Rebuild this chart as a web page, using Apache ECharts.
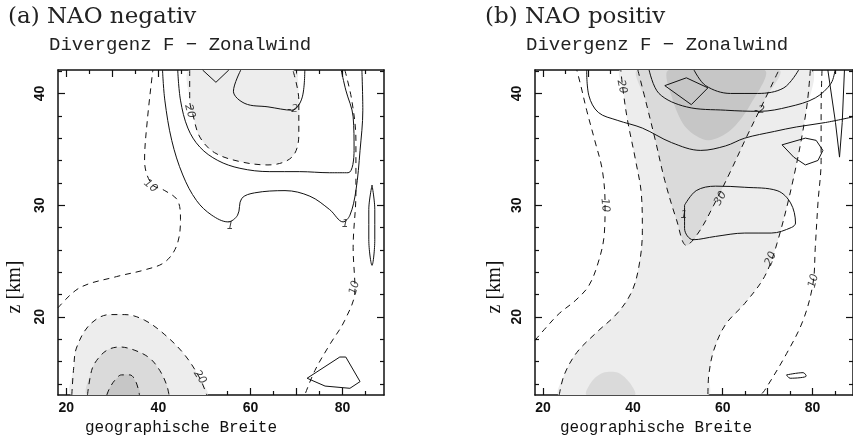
<!DOCTYPE html>
<html lang="de">
<head>
    <meta charset="UTF-8">
    <title>Divergenz F - Zonalwind</title>
    <script type="text/javascript" src="https://cdn.jsdelivr.net/npm/echarts@6/dist/echarts.min.js"></script>
</head>
<body style="margin:0">
<div id="main" style="width:853px;height:442px;"></div>
<script type="text/javascript">
    // achsen
    var latRange = [18.2, 89];
    var zRange = [13.0, 42.1];
    var latMajor = [20, 30, 40, 50, 60, 70, 80];
    var latMinor = [25, 35, 45, 55, 65, 75, 85];
    var latLabels = [20, 40, 60, 80];
    var zMajor = [20, 30, 40];
    var zMinor = [14, 16, 18, 22, 24, 26, 28, 32, 34, 36, 38, 42];
    var zLabels = [20, 30, 40];

    // ---- (a) NAO negativ ----
    // schattierung [breite, km]
    var aShadeTop = [[46.8, 42.1], [46.8, 39.4], [47.5, 38.1], [49, 36.1], [52.2, 34.7], [57.7, 33.9], [63.8, 33.6], [69, 34.3], [70.5, 36.3], [70.5, 39.4], [69.2, 42.1]];
    var aShadeLow1 = [[21.2, 13], [21.6, 15.4], [22.2, 17.2], [25.1, 19.3], [29.4, 20.2], [32.7, 20.2], [37, 19.7], [41.4, 18.4], [45.7, 16.6], [49, 14.5], [50.5, 13]];
    var aShadeLow2 = [[24.6, 13], [25.5, 15.2], [26.6, 16.1], [28.8, 17], [31.6, 17.3], [34.9, 17], [38.1, 16.3], [40.3, 15.2], [41.8, 13.9], [42.3, 13]];
    var aShadeLow3 = [[28.8, 13], [29.4, 13.6], [30.5, 14.3], [32, 14.8], [33.8, 14.8], [35.1, 14.2], [35.9, 13]];
    // divergenz F (durchgezogen)
    var aF1 = [[40.9, 42.1], [41.4, 39.4], [42.9, 35.8], [45.3, 32.7], [48.3, 30.4], [51.6, 29.1], [55.1, 28.5], [57.2, 29.1], [58.1, 30.6], [60.9, 31.1], [67.5, 31.3], [72.9, 30.8], [77.2, 29.6], [80.1, 28.5], [81.6, 29.1], [82.9, 31.3], [83.8, 34.9], [84.4, 38.5], [84.2, 42.1]];
    var aF0 = [[44.2, 42.1], [44.8, 39.4], [46.4, 36.9], [49, 35.2], [52.9, 34], [57.7, 33.3], [64.2, 33], [70.7, 33], [77.2, 32.9], [81.2, 32.9], [82.5, 34.9], [82.3, 37.9], [80.7, 40.3], [79.7, 42.1]];
    var aFm2 = [[57.9, 42.1], [56.3, 40.2], [58.8, 39.1], [63.8, 38.8], [69, 38.5], [71.2, 39.6], [71.8, 42.1]];
    var aFtop = [[49.6, 42.1], [52.5, 41.0], [55.3, 42.1]];
    var aFcell1 = [[86.4, 31.8], [87, 29.6], [87, 26.9], [86.4, 24.6], [85.7, 26.9], [85.7, 29.6], [86.4, 31.8]];
    var aFcell2 = [[72.3, 14.5], [79.4, 16.4], [80.7, 16.4], [83.8, 14.2], [81.6, 13.6], [76.2, 13.8], [72.3, 14.5]];
    // zonalwind (gestrichelt)
    var aU20top = [[46.8, 42.1], [46.8, 39.4], [47.5, 38.1], [49, 36.1], [52.2, 34.7], [57.7, 33.9], [63.8, 33.6], [69, 34.3], [70.5, 36.3], [70.5, 39.4], [69.2, 42.1]];
    var aU10left = [[18.2, 20.8], [22.9, 22.6], [30.9, 23.6], [37, 24.2], [41.4, 24.9], [44, 26.4], [44.8, 28.7], [44.2, 30.4], [41.4, 31.3], [38.5, 31.9], [37, 34], [37.6, 37.6], [38.8, 42.1]];
    var aU10right = [[80.5, 42.1], [82, 39.4], [82.9, 35.8], [82.9, 31.1], [82.3, 26.2], [82.7, 22.4], [80.5, 19.7], [77.2, 17.5], [74, 15.2], [71.8, 13]];
    var aU20low = [[21.2, 13], [21.6, 15.4], [22.2, 17.2], [25.1, 19.3], [29.4, 20.2], [32.7, 20.2], [37, 19.7], [41.4, 18.4], [45.7, 16.6], [49, 14.5], [50.5, 13]];
    var aU30low = [[24.6, 13], [25.5, 15.2], [26.6, 16.1], [28.8, 17], [31.6, 17.3], [34.9, 17], [38.1, 16.3], [40.3, 15.2], [41.8, 13.9], [42.3, 13]];
    var aU40low = [[28.8, 13], [29.4, 13.6], [30.5, 14.3], [32, 14.8], [33.8, 14.8], [35.1, 14.2], [35.9, 13]];

    // ---- (b) NAO positiv ----
    var bShade1 = [[23.6, 13], [24.7, 14.8], [27.5, 16.8], [31.9, 18.6], [36.7, 20.4], [39.9, 22.4], [41.5, 24.9], [42.1, 27.7], [41.9, 30.9], [40.6, 34], [38.8, 37.6], [37.8, 40.3], [37.3, 42.1], [79.5, 42.1], [78.6, 38.5], [75.8, 32.5], [72.1, 26.6], [69.3, 23.6], [64.9, 21.2], [60.6, 19.3], [58, 17], [56.9, 14.8], [56.7, 13]];
    var bShade2 = [[41.1, 42.1], [42.8, 39.4], [45, 35.8], [47.1, 32.2], [49.7, 28.7], [51.9, 26.4], [54.7, 27.6], [58, 30], [61.7, 33], [65.3, 36.1], [69.3, 39.4], [72.5, 42.1]];
    var bShade3 = [[48, 42.1], [48.9, 39.4], [51.9, 36.9], [56.7, 35.8], [61.7, 36.7], [66, 38.9], [69.3, 42.1]];
    var bShadeLow = [[29.7, 13], [31, 14.3], [33.4, 15], [36.7, 15], [39.3, 14.1], [40.4, 13]];
    var bF1 = [[29.7, 42.1], [30.2, 39.8], [32.3, 38.3], [36.5, 37.6], [42.1, 36.9], [48.6, 35.6], [55.1, 34.9], [60.6, 35.3], [64.9, 36], [71.5, 36.6], [76.4, 37], [82.9, 37.4], [89, 37.9]];
    var bFm2 = [[43.6, 42.1], [45.8, 40], [51.9, 38.8], [60.6, 38.5], [68.2, 38.4], [74.7, 38.8], [80.6, 39.6], [84.1, 40.9], [85, 42.1]];
    var bFm3 = [[53.6, 42.1], [56.2, 40.7], [61.7, 40], [67.8, 40], [73.6, 40.5], [76.9, 42.1]];
    var bFspike = [[83.4, 42.1], [85.1, 37.4], [86, 34.3], [86.6, 37.4], [87.1, 42.1]];
    var bFcell1 = [[73.2, 35.4], [78.4, 36], [80.8, 35.8], [82.3, 34.9], [81.2, 34], [78.4, 33.6], [75.8, 34.3], [73.2, 35.4]];
    var bFcell2 = [[47.1, 40.7], [51.9, 41.4], [56.7, 40.5], [53, 39], [47.1, 40.7]];
    var bFcell3 = [[74.2, 14.8], [77.9, 15.0], [78.6, 14.7], [75, 14.5], [74.2, 14.8]];
    var bF1loop = [[51.5, 30], [54.1, 31.3], [58.4, 31.7], [64.9, 31.6], [72.1, 31.3], [75.1, 30.2], [76.2, 28.4], [75.3, 28], [70.8, 27.5], [64.9, 27.5], [58.4, 27.2], [53.4, 26.9], [51.5, 27.9], [51.5, 30]];
    var bU20left = [[23.6, 13], [24.7, 14.8], [27.5, 16.8], [31.9, 18.6], [36.7, 20.4], [39.9, 22.4], [41.5, 24.9], [42.1, 27.7], [41.9, 30.9], [40.6, 34], [38.8, 37.6], [37.8, 40.3], [37.3, 42.1]];
    var bU10left = [[18.2, 17.9], [20.8, 19.1], [23.6, 20.3], [27.3, 21.5], [30.2, 22.8], [32.3, 24.9], [33.6, 27.3], [33.8, 30], [33.2, 33.1], [31.5, 35.8], [29.7, 38.5], [28.4, 40.7], [27.5, 42.1]];
    var bU30 = [[41.1, 42.1], [42.8, 39.4], [45, 35.8], [47.1, 32.2], [49.7, 28.7], [51.9, 26.4], [54.7, 27.6], [58, 30], [61.7, 33], [65.3, 36.1], [69.3, 39.4], [72.5, 42.1]];
    var bU20right = [[79.5, 42.1], [78.6, 38.5], [75.8, 32.5], [72.1, 26.6], [69.3, 23.6], [64.9, 21.2], [60.6, 19.3], [58, 17], [56.9, 14.8], [56.7, 13]];
    var bU10right = [[82.1, 42.1], [81.9, 38.5], [81.9, 34], [81.2, 30.2], [80.6, 26.2], [80.1, 23], [77.9, 19.7], [74.2, 16.7], [69.3, 13.4], [68.4, 13]];

    // beschriftung der isolinien: [breite, km, text, drehung]
    var aLabels = [[46.8, 38.4, '20', -75], [69.2, 38.6, '-2', 0], [38.3, 31.7, '10', -40], [55.6, 28.1, '1', 0], [80.6, 28.3, '1', 0], [82.6, 22.6, '10', 75], [49, 14.6, '20', -57]];
    var bLabels = [[37.5, 40.6, '20', -78], [68.2, 38.5, '-2', 0], [33.8, 30, '10', -85], [51.4, 29.1, '1', 0], [59.5, 30.6, '30', 60], [70.7, 25.2, '20', 68], [80.2, 23.2, '10', 75]];

    var chart = echarts.init(document.getElementById('main'));

    var black = '#111';
    var light = '#ededed', mid = '#dadada', dark = '#c6c6c6';
    var grids = [
        {left: 58, top: 70, width: 326, height: 325},
        {left: 535, top: 70, width: 326, height: 325}
    ];

    var xAxes = [], yAxes = [];
    [0, 1].forEach(function (g) {
        ['bottom', 'top'].forEach(function (pos) {
            xAxes.push({
                gridIndex: g, type: 'value', min: latRange[0], max: latRange[1], position: pos,
                axisLine: {onZero: false, lineStyle: {color: black, width: 1.5}},
                axisTick: {inside: true, length: 7, customValues: latMajor, lineStyle: {color: black, width: 1.2}},
                axisLabel: {show: pos === 'bottom', customValues: latLabels, margin: 6,
                    fontFamily: 'Liberation Sans', fontWeight: 'bold', fontSize: 14, color: '#111'},
                splitLine: {show: false}
            });
            xAxes.push({
                gridIndex: g, type: 'value', min: latRange[0], max: latRange[1], position: pos,
                axisLine: {show: false},
                axisTick: {inside: true, length: 4, customValues: latMinor, lineStyle: {color: black, width: 1.2}},
                axisLabel: {show: false},
                splitLine: {show: false}
            });
        });
        ['left', 'right'].forEach(function (pos) {
            yAxes.push({
                gridIndex: g, type: 'value', min: zRange[0], max: zRange[1], position: pos,
                axisLine: {onZero: false, lineStyle: {color: black, width: 1.5}},
                axisTick: {inside: true, length: 7, customValues: zMajor, lineStyle: {color: black, width: 1.2}},
                axisLabel: {show: pos === 'left', customValues: zLabels, rotate: 90, margin: 11,
                    fontFamily: 'Liberation Sans', fontWeight: 'bold', fontSize: 14, color: '#111'},
                splitLine: {show: false}
            });
            yAxes.push({
                gridIndex: g, type: 'value', min: zRange[0], max: zRange[1], position: pos,
                axisLine: {show: false},
                axisTick: {inside: true, length: 4, customValues: zMinor, lineStyle: {color: black, width: 1.2}},
                axisLabel: {show: false},
                splitLine: {show: false}
            });
        });
    });

    // fläche über custom series, punkte über die achsen umgerechnet
    function area(panel, pts, color) {
        return {
            type: 'custom', xAxisIndex: panel * 4, yAxisIndex: panel * 4, clip: true, silent: true,
            data: [0],
            renderItem: function (params, api) {
                return {
                    type: 'polygon',
                    shape: {points: pts.map(function (p) { return api.coord(p); }), smooth: 0.3},
                    style: {fill: color}
                };
            }
        };
    }

    function contour(panel, pts, dashed, smooth) {
        return {
            type: 'line', xAxisIndex: panel * 4, yAxisIndex: panel * 4, data: pts,
            smooth: smooth ? 0.35 : false, symbol: 'none', silent: true, clip: true,
            lineStyle: {color: black, width: 1, type: dashed ? [6, 5] : 'solid'}
        };
    }

    function labels(panel, list) {
        return {
            type: 'scatter', xAxisIndex: panel * 4, yAxisIndex: panel * 4, symbolSize: 0, silent: true, z: 5,
            data: list.map(function (l) {
                return {value: [l[0], l[1]], label: {show: true, formatter: l[2], rotate: l[3]}};
            }),
            label: {position: 'inside', fontFamily: 'DejaVu Sans', fontStyle: 'italic', fontSize: 11, color: '#111'}
        };
    }

    var series = [
        area(0, aShadeTop, light),
        area(0, aShadeLow1, light),
        area(0, aShadeLow2, mid),
        area(0, aShadeLow3, dark),
        area(1, bShade1, light),
        area(1, bShade2, mid),
        area(1, bShade3, dark),
        area(1, bShadeLow, mid)
    ];
    [aF1, aF0, aFm2, aFcell1].forEach(function (d) { series.push(contour(0, d, false, true)); });
    [aFtop, aFcell2].forEach(function (d) { series.push(contour(0, d, false, false)); });
    [aU20top, aU10left, aU10right, aU20low, aU30low, aU40low].forEach(function (d) { series.push(contour(0, d, true, true)); });
    [bF1, bFm2, bFm3, bF1loop, bFcell3].forEach(function (d) { series.push(contour(1, d, false, true)); });
    [bFspike, bFcell1, bFcell2].forEach(function (d) { series.push(contour(1, d, false, false)); });
    [bU20left, bU10left, bU30, bU20right, bU10right].forEach(function (d) { series.push(contour(1, d, true, true)); });
    series.push(labels(0, aLabels));
    series.push(labels(1, bLabels));

    var serif = 'DejaVu Serif';
    var mono = 'Liberation Mono';
    var graphic = [];
    [[8, '(a) NAO negativ'], [485, '(b) NAO positiv']].forEach(function (t) {
        graphic.push({type: 'text', left: t[0], top: 6, style: {text: t[1], font: '23px "' + serif + '"', fill: '#222'}});
        graphic.push({type: 'text', left: t[0] + 41, top: 35, style: {text: 'Divergenz F \u2212 Zonalwind', font: '19px "' + mono + '"', fill: '#222'}});
    });
    [181, 656].forEach(function (x) {
        graphic.push({type: 'text', x: x, y: 428, style: {text: 'geographische Breite', font: '16px "' + mono + '"', fill: '#111', align: 'center', verticalAlign: 'middle'}});
    });
    [15, 495].forEach(function (x) {
        graphic.push({type: 'text', x: x, y: 287, rotation: Math.PI / 2, style: {text: 'z [km]', font: '20px "Liberation Serif"', fill: '#111', align: 'center', verticalAlign: 'middle'}});
    });

    chart.setOption({
        animation: false,
        backgroundColor: '#fff',
        grid: grids,
        xAxis: xAxes,
        yAxis: yAxes,
        series: series,
        graphic: graphic
    });
</script>
</body>
</html>
